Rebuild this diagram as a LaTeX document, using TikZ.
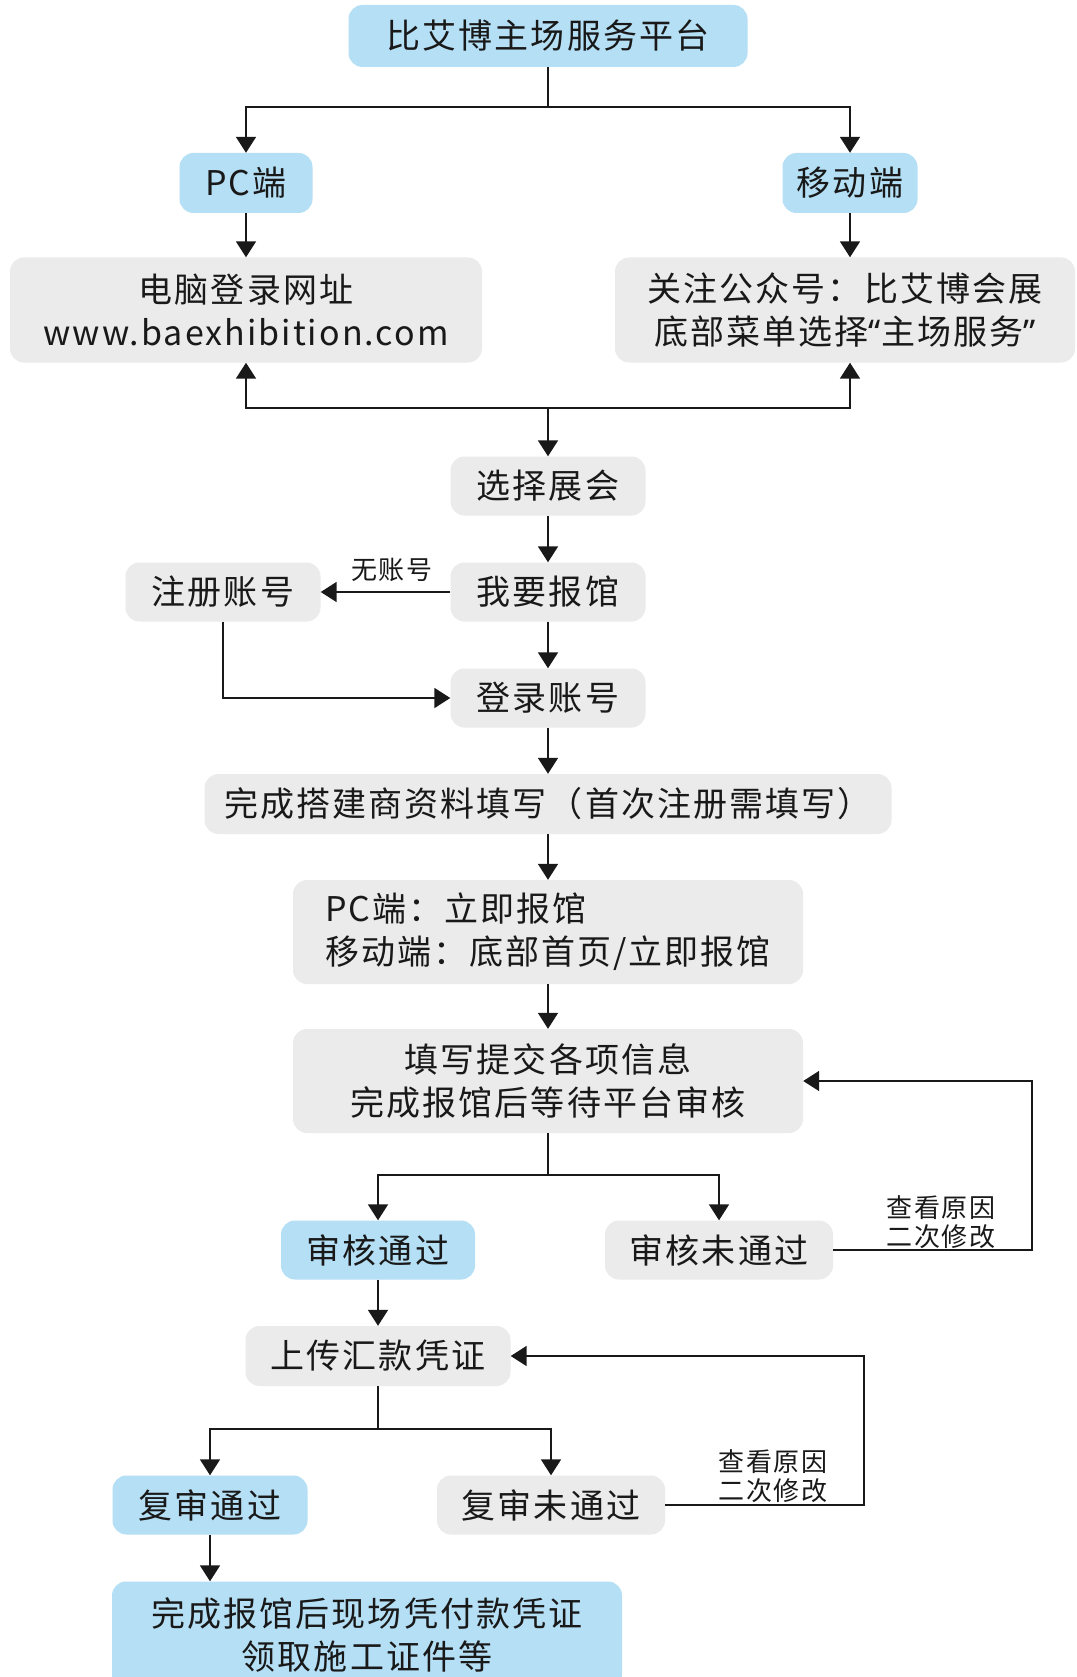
\documentclass[tikz,border=0pt]{standalone}
\usepackage{fontspec}
\usetikzlibrary{arrows.meta,positioning}
\newfontfamily\cjk[LetterSpace=6]{Noto Sans CJK SC}
\newfontfamily\quotefont{Noto Sans}
\definecolor{boxblue}{RGB}{181,223,245}
\definecolor{boxgray}{RGB}{235,235,235}
\definecolor{ink}{RGB}{25,25,25}

\begin{document}
\begin{tikzpicture}[x=1pt, y=-1pt, node distance=106pt, font=\cjk\fontsize{34}{43}\selectfont, text=ink]

\tikzstyle{bluebox} = [rounded corners=14pt, fill=boxblue, inner sep=0pt, minimum height=59pt, align=center]
\tikzstyle{graybox} = [rounded corners=14pt, fill=boxgray, inner sep=0pt, minimum height=59pt, align=center]
\tikzstyle{note} = [inner sep=0pt, align=center, font=\cjk\fontsize{26}{29}\selectfont]
\tikzstyle{line} = [line width=1.8pt, draw=ink]
\tikzstyle{arrow} = [line, -{Triangle[width=20pt,length=16pt]}]

\path [use as bounding box, fill=white] (0,0) rectangle (1076,1677);

% Entry points
\node (top) [bluebox, minimum width=399pt, minimum height=62pt] at (548,36) {比艾博主场服务平台};
\node (pc) [bluebox, minimum width=133pt, minimum height=60pt] at (246,183) {PC端};
\node (mobile) [bluebox, minimum width=135pt, minimum height=60pt] at (850,183) {移动端};
\node (pcurl) [graybox, node distance=127pt, below of=pc, minimum width=472pt, minimum height=105pt] {电脑登录网址\\www.baexhibition.com};
\node (wechat) [graybox, node distance=127pt, below of=mobile, xshift=-5pt, minimum width=460pt, minimum height=105pt] {关注公众号：比艾博会展\\底部菜单选择{\quotefont “}主场服务{\quotefont ”}};

% Main column
\node (select) [graybox, minimum width=195pt] at (548,486) {选择展会};
\node (report) [graybox, below of=select, minimum width=195pt] {我要报馆};
\node (register) [graybox, node distance=325pt, left of=report, minimum width=195pt] {注册账号};
\node (login) [graybox, below of=report, minimum width=195pt] {登录账号};
\node (profile) [graybox, below of=login, minimum width=687pt, minimum height=60pt] {完成搭建商资料填写（首次注册需填写）};
\node (entry) [graybox, below of=profile, yshift=-22pt, minimum width=510pt, minimum height=104pt, align=left] {PC端：立即报馆\\移动端：底部首页/立即报馆};
\node (submit) [graybox, below of=entry, yshift=-43pt, minimum width=510pt, minimum height=104pt] {填写提交各项信息\\完成报馆后等待平台审核};

% Review
\node (pass) [bluebox, minimum width=194pt] at (378,1250) {审核通过};
\node (fail) [graybox, minimum width=228pt] at (719,1250) {审核未通过};
\node (upload) [graybox, below of=pass, minimum width=265pt, minimum height=60pt] {上传汇款凭证};
\node (repass) [bluebox, minimum width=195pt] at (210,1505) {复审通过};
\node (refail) [graybox, minimum width=228pt] at (551,1505) {复审未通过};
\node (final) [bluebox, minimum width=510pt, minimum height=107pt] at (367,1635) {完成报馆后现场凭付款凭证\\领取施工证件等};

% Labels
\node (noacct) [note] at (392,570) {无账号};
\node (why1) [note] at (941,1222) {查看原因\\二次修改};
\node (why2) [note] at (773,1476) {查看原因\\二次修改};

% Junctions
\coordinate (split1) at (548,107);
\coordinate (join) at (548,408);
\coordinate (split2) at (548,1175);
\coordinate (back1) at (1032,1250);
\coordinate (split3) at (378,1429);
\coordinate (back2) at (864,1505);

% Paths
\draw [line] (top) -- (split1);
\draw [arrow] (split1) -| (pc);
\draw [arrow] (split1) -| (mobile);
\draw [arrow] (pc) -- (pcurl);
\draw [arrow] (mobile) -- (mobile |- wechat.north);
\draw [arrow] (join) -| (pcurl);
\draw [arrow] (join) -| (mobile |- wechat.south);
\draw [arrow] (join) -- (select);
\draw [arrow] (select) -- (report);
\draw [arrow] (report) -- (register);
\draw [arrow] (register) |- (login);
\draw [arrow] (report) -- (login);
\draw [arrow] (login) -- (profile);
\draw [arrow] (profile) -- (entry);
\draw [arrow] (entry) -- (submit);
\draw [line] (submit) -- (split2);
\draw [arrow] (split2) -| (pass);
\draw [arrow] (split2) -| (fail);
\draw [arrow] (fail) -- (back1) |- (submit);
\draw [arrow] (pass) -- (upload);
\draw [line] (upload) -- (split3);
\draw [arrow] (split3) -| (repass);
\draw [arrow] (split3) -| (refail);
\draw [arrow] (refail) -- (back2) |- (upload);
\draw [arrow] (repass) -- (repass |- final.north);

\end{tikzpicture}
\end{document}
